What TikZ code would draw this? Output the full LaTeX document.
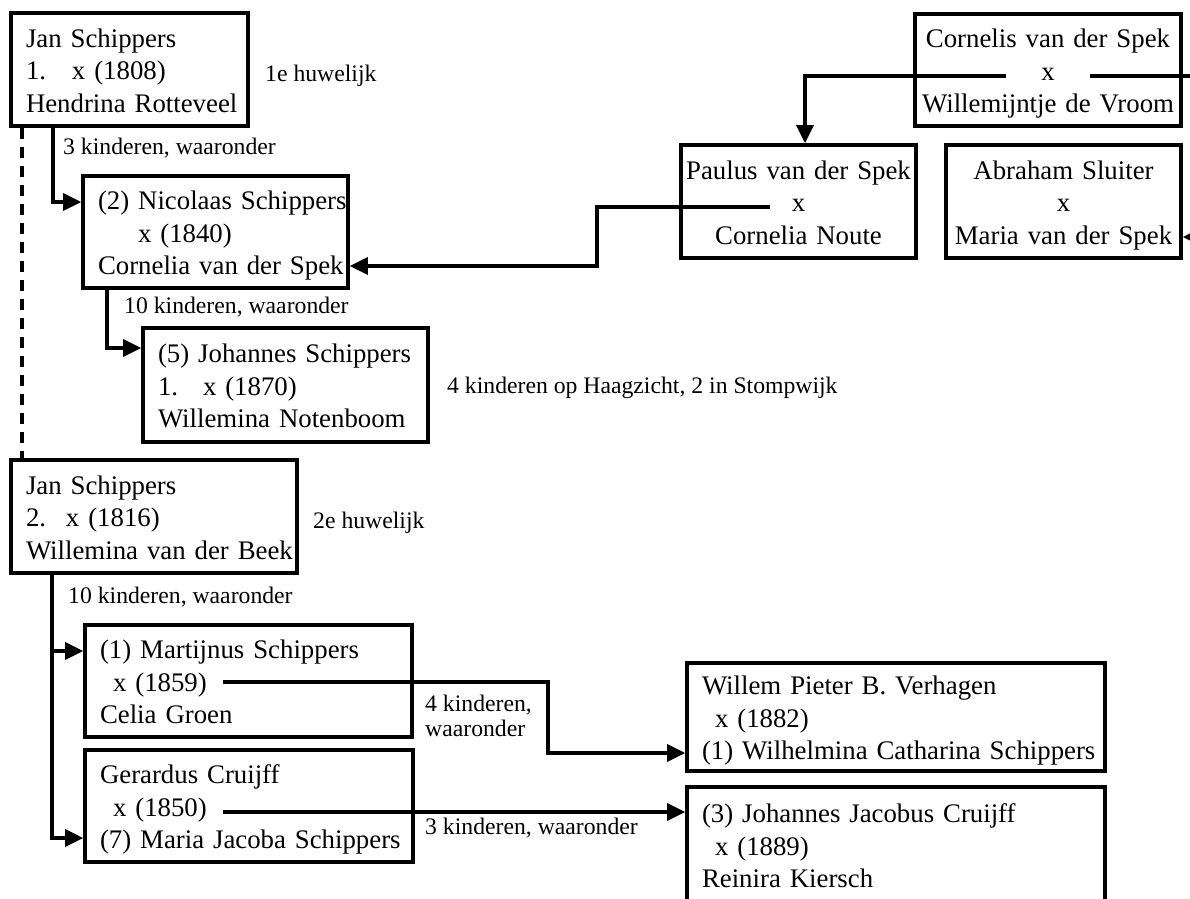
\documentclass[tikz,border=0pt]{standalone}
\usepackage{fontspec}
\setmainfont{Liberation Serif}
\usetikzlibrary{arrows.meta}
\newcommand\boxfont{\fontsize{26.8}{32.5}\selectfont}
\newcommand\lblfont{\fontsize{23.7}{25}\selectfont}
\newcommand\trio[3]{\mbox{\rule{0pt}{26pt}#1}\\\mbox{#2}\\\mbox{#3\rule[-6pt]{0pt}{6pt}}}
\tikzset{
  fambox/.style={draw, line width=3.6pt, inner xsep=15pt, inner ysep=1pt, font=\boxfont, align=left},
  cbox/.style={draw, line width=3.6pt, inner xsep=5pt, inner ysep=1pt, font=\boxfont, align=center},
  conn/.style={line width=3.3pt, -{Triangle[length=18pt,width=17pt]}},
  plainline/.style={line width=3.3pt},
  dashline/.style={line width=3.5pt, dash pattern=on 11pt off 8pt},
  lbl/.style={font=\lblfont, inner sep=0pt, anchor=base west},
}
\begin{document}
\begin{tikzpicture}[x=1pt,y=-1pt]
\useasboundingbox (0,0) rectangle (1190,898);

% family boxes (left aligned)
\node[fambox, minimum width=237pt, minimum height=113pt, text width=207pt] (b1) at (129.5,69.5)
  {\trio{Jan Schippers}{\makebox[46pt][l]{1.}x (1808)}{Hendrina Rotteveel}};
\node[fambox, minimum width=265pt, minimum height=112pt, text width=235pt] (b2) at (215.5,232)
  {\trio{(2) Nicolaas Schippers}{\hspace*{40pt}x (1840)}{Cornelia van der Spek}};
\node[fambox, minimum width=285pt, minimum height=114pt, text width=255pt] (b3) at (285.5,385)
  {\trio{(5) Johannes Schippers}{\makebox[45pt][l]{1.}x (1870)}{Willemina Notenboom}};
\node[fambox, minimum width=286pt, minimum height=113pt, text width=256pt] (b4) at (154,516.5)
  {\trio{Jan Schippers}{\makebox[40pt][l]{2.}x (1816)}{Willemina van der Beek}};
\node[fambox, minimum width=327pt, minimum height=112pt, text width=297pt] (b5) at (248.5,681)
  {\trio{(1) Martijnus Schippers}{\hspace*{13pt}x (1859)}{Celia Groen}};
\node[fambox, minimum width=328pt, minimum height=112pt, text width=298pt] (b6) at (249,806)
  {\trio{Gerardus Cruijff}{\hspace*{13pt}x (1850)}{(7) Maria Jacoba Schippers}};
\node[fambox, minimum width=418pt, minimum height=108pt, text width=388pt] (b7) at (896,717)
  {\trio{Willem Pieter B. Verhagen}{\hspace*{13pt}x (1882)}{(1) Wilhelmina Catharina Schippers}};
\node[fambox, minimum width=418pt, minimum height=116pt, text width=388pt] (b8) at (896,845)
  {\trio{(3) Johannes Jacobus Cruijff}{\hspace*{13pt}x (1889)}{Reinira Kiersch}};

% centered boxes
\node[cbox, minimum width=266pt, minimum height=112pt, text width=256pt] (c1) at (1048,70)
  {\trio{Cornelis van der Spek}{x}{Willemijntje de Vroom}};
\node[cbox, minimum width=235pt, minimum height=113pt, text width=225pt] (c2) at (798.5,201.5)
  {\trio{Paulus van der Spek}{x}{Cornelia Noute}};
\node[cbox, minimum width=235pt, minimum height=113pt, text width=225pt] (c3) at (1063.5,201.5)
  {\trio{Abraham Sluiter}{x}{Maria van der Spek}};

% labels
\node[lbl] (l1) at (265,81) {1e huwelijk};
\node[lbl] (l2) at (63,154) {3 kinderen, waaronder};
\node[lbl] (l3) at (124,313) {10 kinderen, waaronder};
\node[lbl] (l4) at (447,393) {4 kinderen op Haagzicht, 2 in Stompwijk};
\node[lbl] (l5) at (313,528) {2e huwelijk};
\node[lbl] (l6) at (68,603) {10 kinderen, waaronder};
\node[lbl] (l7) at (425,711) {4 kinderen,};
\node[lbl] (l8) at (425,736) {waaronder};
\node[lbl] (l9) at (425,834) {3 kinderen, waaronder};

% helper coordinates
\coordinate (kd) at (22,0);
\coordinate (k1) at (53,202);
\coordinate (k2) at (107,348);
\coordinate (k3) at (52,651);
\coordinate (k4) at (52,838);
\coordinate (m1) at (223,682);
\coordinate (k5) at (548,753);
\coordinate (m2) at (223,812);
\coordinate (p1) at (770,207);
\coordinate (k6) at (597,266);
\coordinate (cl) at (1006,76);
\coordinate (k7) at (805,76);
\coordinate (cr) at (1090,76);
\coordinate (edgeR) at (1195,76);
\coordinate (edgeA) at (1212,237);

% connectors
\draw[dashline] (b1.south -| kd) -- (b4.north -| kd);
\draw[conn] (b1.south -| k1) |- (b2.west |- k1);
\draw[conn] (b2.south -| k2) |- (b3.west |- k2);
\draw[conn] (b4.south -| k3) |- (b5.west |- k3);
\draw[conn] (b4.south -| k4) |- (b6.west |- k4);
\draw[conn] (m1) -| (k5) -- (b7.west |- k5);
\draw[conn] (m2) -- (b8.west |- m2);
\draw[conn] (p1) -| (k6) -- (b2.east |- k6);
\draw[conn] (cl) -- (k7) -- (c2.north -| k7);
\draw[plainline] (cr) -- (edgeR);
\draw[conn] (edgeA) -- (c3.east |- edgeA);
\end{tikzpicture}
\end{document}
